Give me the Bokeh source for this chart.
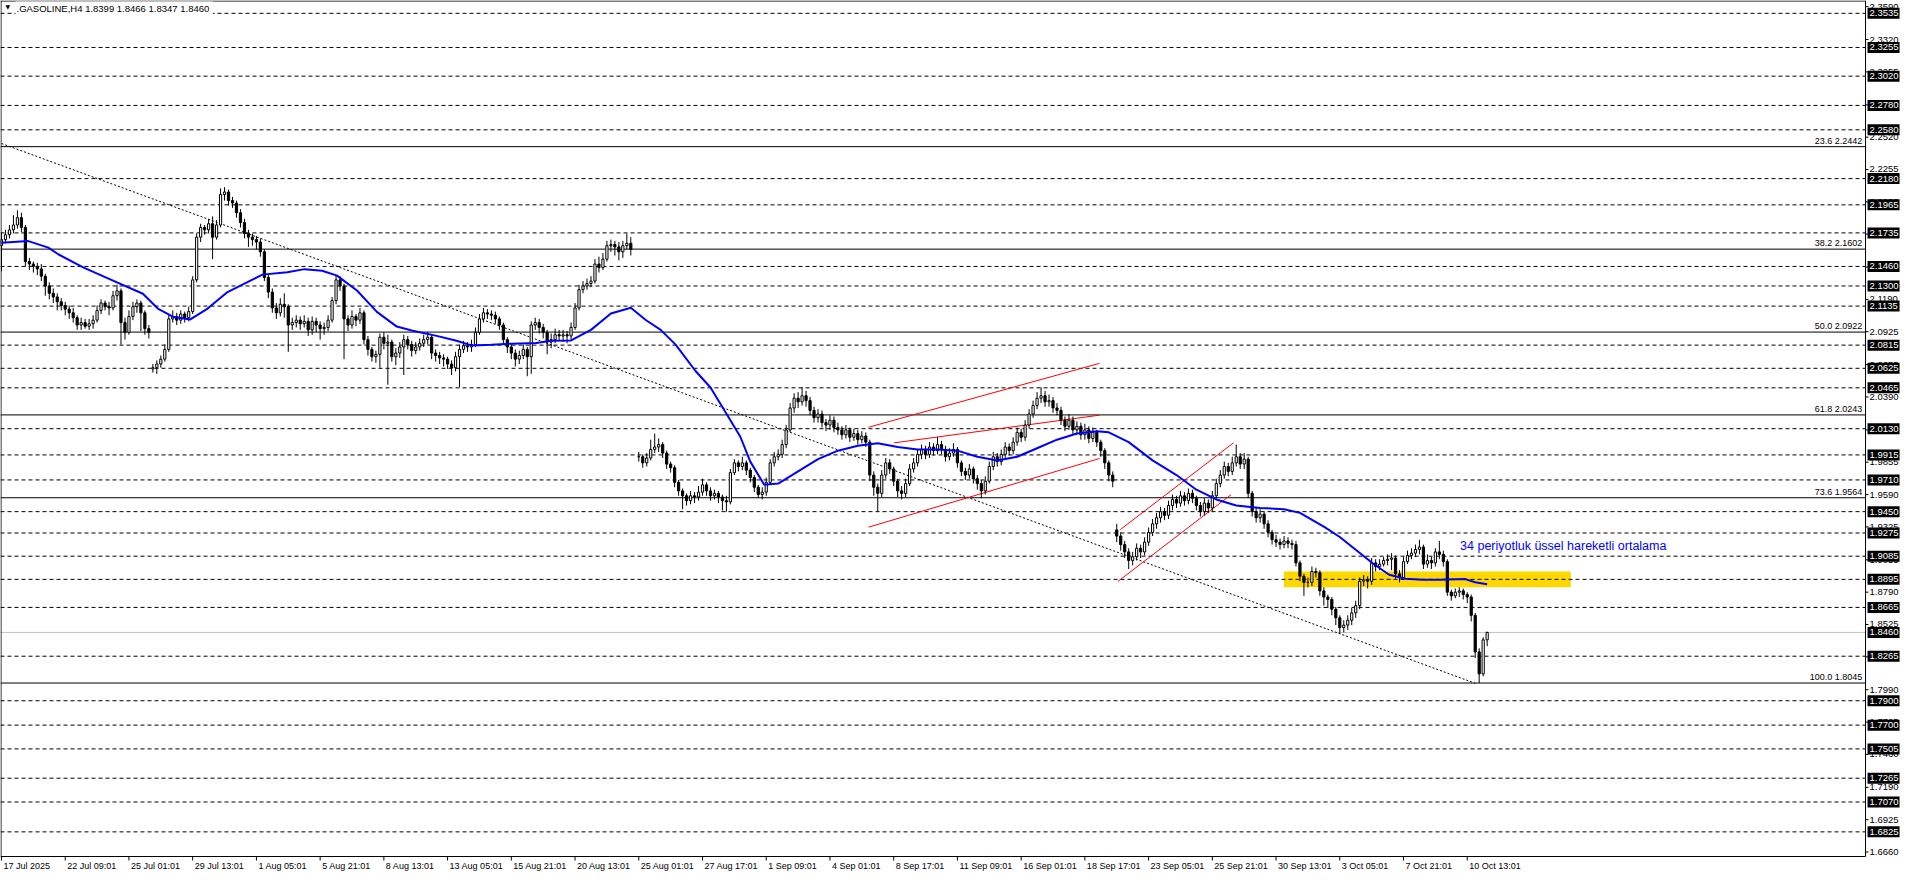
from bokeh.plotting import figure
from bokeh.models import Range1d, Label, ColumnDataSource
from bokeh.core.properties import value
from bokeh.embed import file_html
from bokeh.resources import INLINE

# ---------------- data ----------------
open_a = [2.163,2.168,2.172,2.176,2.180,2.186,2.178,2.150,2.148,2.146,
2.144,2.138,2.130,2.124,2.121,2.117,2.114,2.111,2.108,2.104,
2.098,2.100,2.097,2.099,2.102,2.110,2.116,2.113,2.112,2.122,
2.126,2.100,2.092,2.105,2.113,2.116,2.108,2.095,2.062,2.063,
2.066,2.070,2.078,2.103,2.105,2.102,2.107,2.104,2.109,2.135,
2.170,2.178,2.176,2.181,2.170,2.180,2.205,2.207,2.200,2.198,
2.190,2.182,2.173,2.170,2.168,2.166,2.158,2.137,2.125,2.112,
2.108,2.115,2.113,2.098,2.100,2.102,2.099,2.101,2.094,2.101,
2.098,2.095,2.096,2.102,2.118,2.135,2.130,2.103,2.098,2.105,
2.102,2.108,2.086,2.078,2.072,2.074,2.088,2.083,2.084,2.072,
2.075,2.080,2.086,2.082,2.077,2.080,2.083,2.086,2.088,2.075,
2.073,2.071,2.070,2.066,2.063,2.072,2.078,2.081,2.080,2.082,
2.092,2.103,2.108,2.107,2.106,2.103,2.098,2.086,2.080,2.075,
2.070,2.073,2.078,2.072,2.098,2.100,2.096,2.092,2.084,2.086,
2.090,2.089,2.090,2.089,2.096,2.112,2.127,2.130,2.132,2.134,
2.148,2.145,2.152,2.163,2.164,2.162,2.158,2.163,2.165]
high_a = [2.174,2.176,2.180,2.188,2.192,2.190,2.180,2.153,2.150,2.149,
2.148,2.140,2.133,2.128,2.124,2.120,2.117,2.114,2.112,2.106,
2.104,2.103,2.103,2.106,2.114,2.119,2.118,2.117,2.126,2.131,
2.128,2.104,2.110,2.117,2.119,2.118,2.110,2.098,2.066,2.069,
2.073,2.082,2.106,2.110,2.108,2.110,2.109,2.113,2.138,2.173,
2.181,2.180,2.185,2.187,2.184,2.210,2.211,2.209,2.203,2.200,
2.193,2.185,2.176,2.173,2.171,2.169,2.160,2.139,2.128,2.116,
2.120,2.124,2.115,2.104,2.106,2.105,2.106,2.104,2.105,2.104,
2.101,2.100,2.106,2.121,2.139,2.138,2.132,2.106,2.110,2.107,
2.112,2.110,2.089,2.080,2.077,2.091,2.092,2.090,2.086,2.079,
2.084,2.090,2.089,2.085,2.084,2.087,2.090,2.092,2.090,2.078,
2.076,2.074,2.072,2.069,2.076,2.082,2.085,2.084,2.086,2.096,
2.107,2.112,2.111,2.110,2.109,2.105,2.100,2.088,2.083,2.078,
2.077,2.082,2.080,2.101,2.104,2.103,2.099,2.094,2.091,2.095,
2.094,2.094,2.093,2.100,2.116,2.131,2.134,2.136,2.138,2.152,
2.154,2.157,2.167,2.168,2.167,2.166,2.167,2.173,2.170]
low_a = [2.142,2.165,2.169,2.173,2.177,2.174,2.146,2.143,2.141,2.139,
2.134,2.122,2.119,2.116,2.110,2.110,2.106,2.103,2.100,2.094,
2.094,2.095,2.094,2.095,2.100,2.107,2.110,2.106,2.110,2.118,
2.082,2.086,2.090,2.102,2.108,2.093,2.090,2.087,2.059,2.058,
2.063,2.068,2.076,2.100,2.098,2.099,2.100,2.101,2.107,2.133,
2.166,2.172,2.173,2.152,2.168,2.178,2.200,2.196,2.194,2.186,
2.178,2.169,2.162,2.163,2.160,2.154,2.134,2.120,2.108,2.103,
2.105,2.104,2.076,2.094,2.096,2.094,2.096,2.089,2.090,2.092,
2.086,2.090,2.093,2.100,2.115,2.126,2.070,2.093,2.095,2.097,
2.099,2.082,2.073,2.068,2.067,2.063,2.078,2.049,2.068,2.065,
2.071,2.057,2.078,2.072,2.074,2.077,2.080,2.082,2.070,2.068,
2.066,2.064,2.062,2.057,2.060,2.047,2.075,2.076,2.076,2.080,
2.090,2.100,2.103,2.102,2.099,2.094,2.082,2.075,2.070,2.064,
2.066,2.070,2.056,2.058,2.094,2.091,2.087,2.074,2.079,2.083,
2.085,2.084,2.083,2.086,2.094,2.110,2.124,2.127,2.129,2.132,
2.141,2.143,2.150,2.158,2.155,2.151,2.153,2.160,2.155]
close_a = [2.168,2.172,2.176,2.180,2.186,2.178,2.150,2.148,2.146,2.144,
2.138,2.130,2.124,2.121,2.117,2.114,2.111,2.108,2.104,2.098,
2.100,2.097,2.099,2.102,2.110,2.116,2.113,2.112,2.122,2.126,
2.100,2.092,2.105,2.113,2.116,2.108,2.095,2.092,2.063,2.066,
2.070,2.078,2.103,2.105,2.102,2.107,2.104,2.109,2.135,2.170,
2.178,2.176,2.181,2.170,2.180,2.205,2.207,2.200,2.198,2.190,
2.182,2.173,2.170,2.168,2.166,2.158,2.137,2.125,2.112,2.108,
2.115,2.113,2.098,2.100,2.102,2.099,2.101,2.094,2.101,2.098,
2.095,2.096,2.102,2.118,2.135,2.130,2.103,2.098,2.105,2.102,
2.108,2.086,2.078,2.072,2.074,2.088,2.083,2.084,2.072,2.075,
2.080,2.086,2.082,2.077,2.080,2.083,2.086,2.088,2.075,2.073,
2.071,2.070,2.066,2.063,2.072,2.078,2.081,2.080,2.082,2.092,
2.103,2.108,2.107,2.106,2.103,2.098,2.086,2.080,2.075,2.070,
2.073,2.078,2.072,2.098,2.100,2.096,2.092,2.084,2.086,2.090,
2.089,2.090,2.089,2.096,2.112,2.127,2.130,2.132,2.134,2.148,
2.145,2.152,2.163,2.164,2.162,2.158,2.163,2.165,2.160]

open_b = [1.990,1.990,1.985,1.989,1.996,1.998,2.000,1.993,1.984,1.981,
1.969,1.962,1.958,1.954,1.958,1.957,1.961,1.967,1.962,1.958,
1.960,1.957,1.954,1.953,1.977,1.985,1.982,1.985,1.979,1.973,
1.965,1.959,1.961,1.969,1.985,1.990,1.992,2.000,2.012,2.030,
2.038,2.035,2.040,2.036,2.028,2.022,2.025,2.018,2.016,2.020,
2.014,2.012,2.008,2.012,2.006,2.009,2.004,2.007,2.002,1.975,
1.965,1.960,1.975,1.985,1.980,1.970,1.962,1.960,1.968,1.980,
1.985,1.992,1.996,1.992,1.998,1.995,2.000,1.996,1.990,1.993,
1.996,1.985,1.978,1.975,1.980,1.972,1.968,1.962,1.970,1.982,
1.990,1.986,1.992,1.998,1.995,2.002,2.010,2.006,2.016,2.025,
2.032,2.038,2.040,2.035,2.036,2.030,2.028,2.020,2.015,2.020,
2.012,2.015,2.008,2.012,2.005,2.010,2.002,1.995,1.985,1.975,
1.930,1.925,1.918,1.912,1.905,1.908,1.915,1.912,1.920,1.928,
1.935,1.940,1.945,1.942,1.950,1.955,1.952,1.958,1.954,1.960,
1.956,1.950,1.945,1.952,1.948,1.958,1.968,1.975,1.982,1.978,
1.985,1.990,1.984,1.988,1.960,1.945,1.940,1.943,1.935,1.928,
1.922,1.920,1.918,1.921,1.919,1.918,1.903,1.892,1.887,1.887,
1.896,1.895,1.880,1.875,1.873,1.865,1.858,1.850,1.852,1.856,
1.862,1.868,1.888,1.889,1.888,1.903,1.900,1.902,1.905,1.906,
1.907,1.894,1.891,1.904,1.909,1.911,1.914,1.916,1.902,1.905,
1.903,1.912,1.910,1.904,1.879,1.876,1.879,1.880,1.877,1.875,
1.860,1.830,1.812,1.8399]
high_b = [1.994,1.992,1.993,2.004,2.009,2.005,2.002,1.995,1.986,1.983,
1.971,1.964,1.960,1.962,1.961,1.966,1.972,1.969,1.965,1.963,
1.962,1.959,1.958,1.980,1.988,1.987,1.990,1.987,1.981,1.975,
1.967,1.965,1.973,1.988,1.994,1.996,2.004,2.016,2.034,2.042,
2.043,2.047,2.044,2.039,2.031,2.029,2.028,2.021,2.024,2.023,
2.018,2.015,2.016,2.014,2.013,2.012,2.011,2.010,2.004,1.978,
1.968,1.979,1.989,1.988,1.982,1.972,1.966,1.972,1.984,1.989,
1.996,2.000,1.999,2.002,2.001,2.006,2.003,1.999,1.997,2.001,
1.998,1.987,1.981,1.984,1.982,1.975,1.971,1.974,1.986,1.994,
1.993,1.996,2.002,2.001,2.006,2.014,2.013,2.020,2.029,2.036,
2.043,2.047,2.044,2.041,2.039,2.034,2.031,2.023,2.025,2.023,
2.019,2.018,2.017,2.015,2.014,2.012,2.004,1.997,1.987,1.978,
1.935,1.928,1.921,1.915,1.912,1.919,1.918,1.924,1.932,1.939,
1.944,1.949,1.948,1.954,1.959,1.958,1.962,1.961,1.964,1.963,
1.958,1.953,1.956,1.955,1.962,1.972,1.979,1.986,1.985,1.990,
2.000,1.993,1.993,1.990,1.962,1.948,1.947,1.945,1.938,1.930,
1.926,1.923,1.925,1.924,1.922,1.921,1.905,1.894,1.891,1.900,
1.899,1.897,1.883,1.877,1.875,1.867,1.860,1.856,1.860,1.866,
1.872,1.891,1.893,1.892,1.907,1.906,1.906,1.908,1.910,1.911,
1.909,1.897,1.908,1.913,1.915,1.918,1.922,1.918,1.910,1.908,
1.915,1.921,1.913,1.906,1.881,1.882,1.883,1.882,1.879,1.877,
1.862,1.833,1.842,1.8466]
low_b = [1.986,1.981,1.982,1.987,1.993,1.994,1.989,1.980,1.977,1.965,
1.958,1.947,1.950,1.951,1.952,1.954,1.958,1.958,1.954,1.955,
1.952,1.946,1.945,1.951,1.975,1.978,1.979,1.975,1.969,1.961,
1.956,1.955,1.958,1.967,1.982,1.987,1.989,1.997,2.010,2.026,
2.030,2.032,2.031,2.024,2.018,2.018,2.014,2.011,2.012,2.010,
2.008,2.004,2.005,2.002,2.003,2.000,2.001,1.998,1.970,1.958,
1.945,1.957,1.972,1.976,1.966,1.957,1.955,1.957,1.966,1.977,
1.982,1.988,1.988,1.989,1.991,1.992,1.992,1.986,1.987,1.990,
1.981,1.974,1.971,1.972,1.968,1.963,1.956,1.959,1.968,1.979,
1.982,1.983,1.989,1.991,1.992,1.999,2.002,2.003,2.013,2.022,
2.029,2.034,2.031,2.031,2.026,2.024,2.016,2.011,2.012,2.008,
2.008,2.004,2.004,2.001,2.002,1.998,1.990,1.980,1.970,1.965,
1.920,1.913,1.907,1.898,1.901,1.905,1.907,1.909,1.917,1.925,
1.931,1.936,1.938,1.939,1.946,1.948,1.949,1.950,1.951,1.952,
1.946,1.941,1.942,1.944,1.945,1.955,1.965,1.972,1.974,1.975,
1.982,1.980,1.980,1.956,1.941,1.936,1.936,1.931,1.924,1.918,
1.916,1.914,1.915,1.915,1.914,1.900,1.888,1.876,1.883,1.884,
1.891,1.876,1.868,1.866,1.860,1.852,1.845,1.846,1.848,1.852,
1.858,1.865,1.884,1.882,1.885,1.896,1.897,1.900,1.901,1.897,
1.890,1.887,1.889,1.902,1.906,1.908,1.910,1.898,1.899,1.898,
1.900,1.906,1.900,1.876,1.872,1.874,1.875,1.873,1.870,1.855,
1.825,1.8045,1.810,1.8347]
close_b = [1.990,1.985,1.989,1.996,1.998,2.000,1.993,1.984,1.981,1.969,
1.962,1.958,1.954,1.958,1.957,1.961,1.967,1.962,1.958,1.960,
1.957,1.954,1.953,1.977,1.985,1.982,1.985,1.979,1.973,1.965,
1.959,1.961,1.969,1.985,1.990,1.992,2.000,2.012,2.030,2.038,
2.035,2.040,2.036,2.028,2.022,2.025,2.018,2.016,2.020,2.014,
2.012,2.008,2.012,2.006,2.009,2.004,2.007,2.002,1.975,1.965,
1.960,1.975,1.985,1.980,1.970,1.962,1.960,1.968,1.980,1.985,
1.992,1.996,1.992,1.998,1.995,2.000,1.996,1.990,1.993,1.996,
1.985,1.978,1.975,1.980,1.972,1.968,1.962,1.970,1.982,1.990,
1.986,1.992,1.998,1.995,2.002,2.010,2.006,2.016,2.025,2.032,
2.038,2.040,2.035,2.036,2.030,2.028,2.020,2.015,2.020,2.012,
2.015,2.008,2.012,2.005,2.010,2.002,1.995,1.985,1.975,1.970,
1.925,1.918,1.912,1.905,1.908,1.915,1.912,1.920,1.928,1.935,
1.940,1.945,1.942,1.950,1.955,1.952,1.958,1.954,1.960,1.956,
1.950,1.945,1.952,1.948,1.958,1.968,1.975,1.982,1.978,1.985,
1.990,1.984,1.988,1.960,1.945,1.940,1.943,1.935,1.928,1.922,
1.920,1.918,1.921,1.919,1.918,1.903,1.892,1.887,1.887,1.896,
1.895,1.880,1.875,1.873,1.865,1.858,1.850,1.852,1.856,1.862,
1.868,1.888,1.889,1.888,1.903,1.900,1.902,1.905,1.906,1.907,
1.894,1.891,1.904,1.909,1.911,1.914,1.916,1.902,1.905,1.903,
1.912,1.910,1.904,1.879,1.876,1.879,1.880,1.877,1.875,1.860,
1.830,1.812,1.8399,1.8460]
first_bar_a = 0
first_bar_b = 160

# 34-period EMA (bar index, price)
ema_idx = [0, 6.75, 11.75, 14.25, 20.5, 28, 35.5, 39.25, 43, 47.4, 51.75, 56.75, 61.75, 65.5,
           71.75, 76.1, 80.5, 84.25, 89.25, 94.25, 99.25, 103, 109.25, 114.25, 118, 123, 128,
           134.25, 138, 143, 148, 153, 158, 161.75, 165.5, 169.25, 174.25, 178, 181.75, 185.5,
           188, 191.5, 195, 200, 205, 210, 215, 220, 225, 230, 235, 240, 245, 250, 255,
           260, 265, 270, 275, 278, 283, 289, 295, 300, 305, 310, 316, 322, 326, 332.2, 336,
           340, 344.25, 348.4, 352.5, 356.75, 361, 367.5, 370, 373]
ema_val = [2.1654, 2.1668, 2.1614, 2.1560, 2.1452, 2.1344, 2.1236, 2.1115, 2.1048, 2.1026,
           2.1115, 2.1250, 2.1331, 2.1393, 2.1412, 2.1438, 2.1425, 2.1385, 2.1263, 2.1088,
           2.0967, 2.0935, 2.0891, 2.0851, 2.0813, 2.0819, 2.0827, 2.0832, 2.0851, 2.0854,
           2.0940, 2.1075, 2.1121, 2.1021, 2.0940, 2.0819, 2.0603, 2.0468, 2.0266, 2.0064,
           1.9860, 1.9670, 1.9680, 1.9780, 1.9880, 1.9950, 1.9990, 2.0010, 1.9980, 1.9960,
           1.9960, 1.9950, 1.9900, 1.9870, 1.9900, 1.9970, 2.0040, 2.0090, 2.0110, 2.0100,
           2.0020, 1.9870, 1.9750, 1.9630, 1.9550, 1.9500, 1.9480, 1.9470, 1.9440, 1.9323,
           1.9242, 1.9137, 1.9027, 1.8933, 1.8900, 1.8892, 1.8892, 1.8897, 1.8871, 1.8855]

# horizontal levels
dashed_levels = [2.3535, 2.3255, 2.3020, 2.2780, 2.2580, 2.2180, 2.1965, 2.1735, 2.1460,
                 2.1300, 2.1135, 2.0815, 2.0625, 2.0465, 2.0130, 1.9915, 1.9710, 1.9450,
                 1.9275, 1.9085, 1.8895, 1.8665, 1.8265, 1.7900, 1.7700, 1.7505, 1.7265,
                 1.7070, 1.6825]
fib_pcts = ["23.6", "38.2", "50.0", "61.8", "73.6", "100.0"]
fib_levels = [2.2442, 2.1602, 2.0922, 2.0243, 1.9564, 1.8045]
last_price = 1.8460
axis_ticks = [2.3590, 2.3320, 2.3055, 2.2785, 2.2520, 2.2255, 2.1990, 2.1725, 2.1455, 2.1190,
              2.0925, 2.0655, 2.0390, 2.0120, 1.9855, 1.9590, 1.9325, 1.9055, 1.8790, 1.8525,
              1.8260, 1.7990, 1.7725, 1.7460, 1.7190, 1.6925, 1.6660]
time_labels = ["17 Jul 2025", "22 Jul 09:01", "25 Jul 01:01", "29 Jul 13:01", "1 Aug 05:01",
               "5 Aug 21:01", "8 Aug 13:01", "13 Aug 05:01", "15 Aug 21:01", "20 Aug 13:01",
               "25 Aug 01:01", "27 Aug 17:01", "1 Sep 09:01", "4 Sep 01:01", "8 Sep 17:01",
               "11 Sep 09:01", "16 Sep 01:01", "18 Sep 17:01", "23 Sep 05:01", "25 Sep 21:01",
               "30 Sep 13:01", "3 Oct 05:01", "7 Oct 21:01", "10 Oct 13:01"]
bars_per_label = 16

# drawn objects (bar index, price)
trend_x = [0, 370]
trend_y = [2.2468, 1.8043]
red_x0 = [217.7, 217.7, 224.1, 280.9, 280.3]
red_y0 = [2.0142, 1.9323, 2.0014, 1.9303, 1.8878]
red_x1 = [275.7, 275.7, 275.7, 309.3, 308.7]
red_y1 = [2.0666, 1.9886, 2.0241, 2.0014, 1.9589]
zone_left, zone_right = 322, 394
zone_bottom, zone_top = 1.8830, 1.8959
note_text = "34 periyotluk üssel hareketli ortalama"
note_x, note_y = 366.2, 1.9170
title_text = ".GASOLINE,H4  1.8399 1.8466 1.8347 1.8460"

# ---------------- layout (canvas edges in data units) ----------------
W, H = 1900, 872
PX_X = 3.983                         # pixels per bar
PX_Y = 1219.9                        # pixels per price unit
X_LEFT = -0.25                       # bar index at canvas left edge
X_AXIS = 468.0                       # price axis line
X_RIGHT = X_LEFT + W / PX_X
Y_TOP = 2.36401                      # price at canvas top edge
Y_AXIS = 1.66231                     # time axis line
Y_BOT = Y_TOP - H / PX_Y
FONT = "Liberation Sans"

p = figure(width=W, height=H, output_backend="svg", toolbar_location=None,
           x_range=Range1d(X_LEFT, X_RIGHT), y_range=Range1d(Y_BOT, Y_TOP),
           x_axis_location=None, y_axis_location=None, min_border=0)
p.background_fill_color = "white"
p.border_fill_color = "white"
p.outline_line_color = None
p.grid.visible = False

# yellow zone
p.quad(left=[zone_left], right=[zone_right], bottom=[zone_bottom], top=[zone_top],
       fill_color="#FFD700", line_color=None)

# horizontal lines
n = len(dashed_levels)
p.segment(x0=[X_LEFT] * n, x1=[X_AXIS] * n, y0=dashed_levels, y1=dashed_levels,
          line_color="black", line_width=1, line_dash="4 3")
p.segment(x0=[X_LEFT] * len(fib_levels), x1=[X_AXIS] * len(fib_levels), y0=fib_levels,
          y1=fib_levels, line_color="black", line_width=1)
p.segment(x0=[X_LEFT], x1=[X_AXIS], y0=[last_price], y1=[last_price], line_color="#C0C0C0",
          line_width=1)

# trend line and channels
p.line(trend_x, trend_y, line_color="black", line_width=1, line_dash="2 2")
p.segment(x0=red_x0, y0=red_y0, x1=red_x1, y1=red_y1, line_color="#FF0000", line_width=1)

# candles
def candles(first, o, h, l, c):
    xs = [first + k for k in range(len(c))]
    p.segment(x0=xs, x1=xs, y0=l, y1=h, line_color="black", line_width=1)
    up = {"x": [], "top": [], "bottom": []}
    dn = {"x": [], "top": [], "bottom": []}
    for x, oo, cc in zip(xs, o, c):
        d = up if cc >= oo else dn
        d["x"].append(x)
        d["top"].append(max(oo, cc))
        d["bottom"].append(min(oo, cc))
    p.vbar(x="x", top="top", bottom="bottom", width=0.55, source=ColumnDataSource(up),
           fill_color="white", line_color="black", line_width=1)
    p.vbar(x="x", top="top", bottom="bottom", width=0.55, source=ColumnDataSource(dn),
           fill_color="black", line_color="black", line_width=1)

candles(first_bar_a, open_a, high_a, low_a, close_a)
candles(first_bar_b, open_b, high_b, low_b, close_b)

# EMA
p.line(ema_idx, ema_val, line_color="#0000FF", line_width=2)

# frame / axis lines
p.segment(x0=[X_LEFT + 0.5 / PX_X, X_LEFT, X_AXIS, X_LEFT],
          x1=[X_LEFT + 0.5 / PX_X, X_AXIS, X_AXIS, X_AXIS],
          y0=[Y_AXIS, Y_TOP - 0.5 / PX_Y, Y_AXIS, Y_AXIS],
          y1=[Y_TOP, Y_TOP - 0.5 / PX_Y, Y_TOP, Y_AXIS],
          line_color="black", line_width=1)

# price axis: ticks + labels
nt = len(axis_ticks)
p.segment(x0=[X_AXIS] * nt, x1=[X_AXIS + 3 / PX_X] * nt, y0=axis_ticks, y1=axis_ticks,
          line_color="black", line_width=1)
p.text(x=[X_AXIS] * nt, y=axis_ticks, text=[f"{v:.4f}" for v in axis_ticks], x_offset=4,
       text_font=value(FONT), text_font_size=value("9.5px"), text_color="black",
       text_baseline="middle", text_align="left")

# boxed price labels (horizontal lines and last price)
boxed = dashed_levels + [last_price]
nb = len(boxed)
p.rect(x=[X_AXIS + 18 / PX_X] * nb, y=boxed, width=32, height=11, width_units="screen",
       height_units="screen", fill_color="black", line_color=None)
p.text(x=[X_AXIS] * nb, y=boxed, text=[f"{v:.4f}" for v in boxed], x_offset=4,
       text_font=value(FONT), text_font_size=value("9.5px"), text_color="white",
       text_baseline="middle", text_align="left")

# time axis: ticks + labels
time_ticks = [bars_per_label * k for k in range(len(time_labels))]
ntt = len(time_ticks)
p.segment(x0=time_ticks, x1=time_ticks, y0=[Y_AXIS] * ntt, y1=[Y_AXIS - 4 / PX_Y] * ntt,
          line_color="black", line_width=1)
p.text(x=time_ticks, y=[Y_AXIS] * ntt, text=time_labels, x_offset=2, y_offset=4,
       text_font=value(FONT), text_font_size=value("9px"), text_color="black",
       text_baseline="top", text_align="left")

# fib labels
fib_label_x = 467.2
p.text(x=[fib_label_x] * len(fib_levels), y=fib_levels,
       text=[f"{a} {b:.4f}" for a, b in zip(fib_pcts, fib_levels)], y_offset=-1,
       text_font=value(FONT), text_font_size=value("9px"), text_color="black",
       text_baseline="bottom", text_align="right")

# annotation text
p.text(x=[note_x], y=[note_y], text=[note_text], text_font=value(FONT),
       text_font_size=value("12.5px"), text_color="#0000FF", text_baseline="middle",
       text_align="left")

# title
p.add_layout(Label(x=X_LEFT, y=Y_TOP, x_offset=5, y_offset=-2, text="\u25BC", text_color="black",
                   text_font="DejaVu Sans", text_font_size="6px", text_baseline="top",
                   text_align="left"))
p.add_layout(Label(x=X_LEFT, y=Y_TOP, x_offset=15, y_offset=-1, text=title_text,
                   text_color="black", text_font=FONT, text_font_size="9.5px",
                   text_baseline="top", text_align="left", background_fill_color="white",
                   padding=1))

open("out.html", "w").write(file_html(p, INLINE))
